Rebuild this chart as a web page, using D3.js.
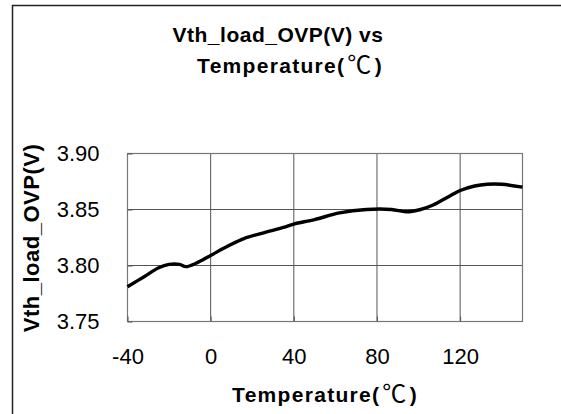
<!DOCTYPE html>
<html>
<head>
<meta charset="utf-8">
<script src="https://cdn.jsdelivr.net/npm/d3@7"></script>
<style>
  body { margin: 0; background: #fff; }
  text { font-family: "Liberation Sans", Arial, sans-serif; }
</style>
</head>
<body>
<svg></svg>
<script>
let width = 561, height = 414;

let temps = [-40, -32, -25, -20, -15, -12, -7, 0, 9, 16, 25, 35, 40, 50, 62, 75, 87, 94, 101, 107, 114, 120, 127, 133, 140, 150];
let vth   = [3.781, 3.790, 3.798, 3.801, 3.801, 3.799, 3.802, 3.809, 3.818, 3.824, 3.829, 3.834, 3.837, 3.841, 3.847, 3.850, 3.850, 3.848, 3.850, 3.854, 3.861, 3.867, 3.871, 3.8725, 3.8725, 3.870];

let xTicks = [-40, 0, 40, 80, 120];
let yTicks = [3.75, 3.80, 3.85, 3.90];

let svg = d3.select("svg")
    .attr("width", width)
    .attr("height", height);

// outer frame, only top and left edges are inside the picture
svg.append("path")
    .attr("d", "M12.5,414 V5.5 H561")
    .attr("fill", "none")
    .attr("stroke", "#222")
    .attr("stroke-width", 1.5);

let margin = {left: 127.5, right: 38.5, top: 153.5, bottom: 92.5};

let x = d3.scaleLinear()
    .domain([-40, 150])
    .range([margin.left, width - margin.right]);

let y = d3.scaleLinear()
    .domain([3.75, 3.90])
    .range([height - margin.bottom, margin.top]);

// grid
svg.append("g")
    .selectAll("line")
    .data(xTicks.slice(1))
    .enter()
    .append("line")
    .attr("x1", d => x(d)).attr("x2", d => x(d))
    .attr("y1", y(3.90)).attr("y2", y(3.75))
    .attr("stroke", "#555")
    .attr("stroke-width", 1);

svg.append("g")
    .selectAll("line")
    .data(yTicks.slice(1))
    .enter()
    .append("line")
    .attr("x1", x(-40)).attr("x2", x(150))
    .attr("y1", d => y(d)).attr("y2", d => y(d))
    .attr("stroke", "#555")
    .attr("stroke-width", 1);

// plot border
svg.append("rect")
    .attr("x", x(-40))
    .attr("y", y(3.90))
    .attr("width", x(150) - x(-40))
    .attr("height", y(3.75) - y(3.90))
    .attr("fill", "none")
    .attr("stroke", "#777")
    .attr("stroke-width", 1.2);

// axes
let xAxis = d3.axisBottom(x)
    .tickValues(xTicks)
    .tickSize(-5)
    .tickPadding(26)
    .tickFormat(d => String(d));

let yAxis = d3.axisLeft(y)
    .tickValues(yTicks)
    .tickSize(-5)
    .tickPadding(28)
    .tickFormat(d3.format(".2f"));

let gx = svg.append("g")
    .attr("transform", "translate(0," + y(3.75) + ")")
    .call(xAxis);

let gy = svg.append("g")
    .attr("transform", "translate(" + x(-40) + ",0)")
    .call(yAxis);

[gx, gy].forEach(g => {
    g.select(".domain").remove();
    g.selectAll(".tick line").attr("stroke", "#555");
    g.selectAll(".tick text")
        .attr("font-family", "Liberation Sans, Arial, sans-serif")
        .attr("font-size", 22)
        .attr("fill", "#000");
});
gx.selectAll(".tick text").attr("dy", 0).attr("y", 0).attr("transform", "translate(0,42)");

// data line
let line = d3.line()
    .x((d, i) => x(temps[i]))
    .y(d => y(d))
    .curve(d3.curveCatmullRom);

svg.append("path")
    .datum(vth)
    .attr("d", line)
    .attr("fill", "none")
    .attr("stroke", "#000")
    .attr("stroke-width", 3.4)
    .attr("stroke-linejoin", "round");

// titles
function degText(sel, label) {
    sel.append("tspan").text(label);
    sel.append("tspan")
        .attr("dx", 2)
        .attr("font-family", "Noto Sans CJK SC")
        .attr("font-weight", "normal")
        .attr("font-size", 24)
        .text("℃");
    sel.append("tspan").attr("dx", 2).text(")");
}

svg.append("text")
    .attr("x", 278)
    .attr("y", 42)
    .attr("text-anchor", "middle")
    .attr("font-size", 21)
    .attr("font-weight", "bold")
    .attr("letter-spacing", 0.5)
    .text("Vth_load_OVP(V) vs");

svg.append("text")
    .attr("x", 290)
    .attr("y", 73)
    .attr("text-anchor", "middle")
    .attr("font-size", 21)
    .attr("font-weight", "bold")
    .attr("letter-spacing", 1.3)
    .call(degText, "Temperature(");

svg.append("text")
    .attr("x", 325)
    .attr("y", 402)
    .attr("text-anchor", "middle")
    .attr("font-size", 21)
    .attr("font-weight", "bold")
    .attr("letter-spacing", 1.3)
    .call(degText, "Temperature(");

svg.append("text")
    .attr("transform", "translate(39,238) rotate(-90)")
    .attr("text-anchor", "middle")
    .attr("font-size", 22)
    .attr("font-weight", "bold")
    .attr("letter-spacing", 0.5)
    .text("Vth_load_OVP(V)");
</script>
</body>
</html>
